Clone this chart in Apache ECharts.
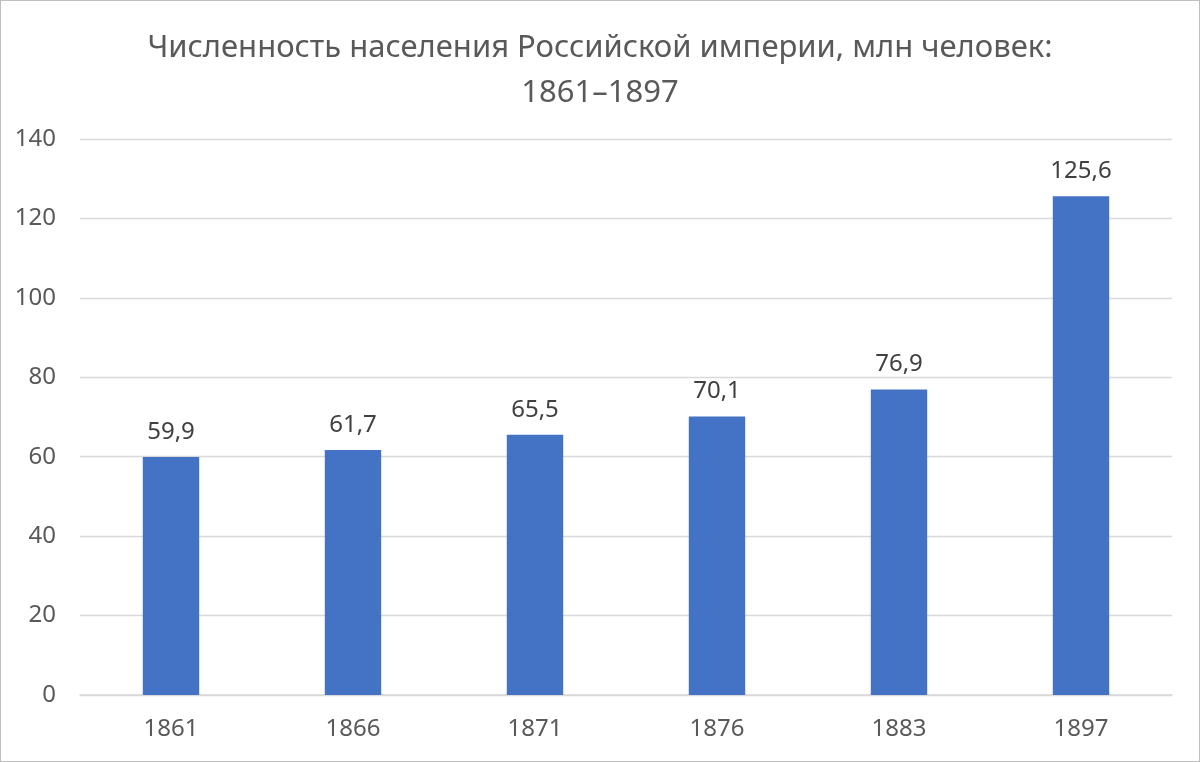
<!DOCTYPE html>
<html><head><meta charset="utf-8">
<script src="https://cdn.jsdelivr.net/npm/echarts@6/dist/echarts.min.js"></script>
<style>
html,body{margin:0;padding:0;background:#fff;}
#c{position:absolute;left:0;top:0;width:1198px;height:760px;border:1px solid #bfbfbf;}
</style></head>
<body><div id="c"></div>
<script>
const categories = ['1861','1866','1871','1876','1883','1897'];
const population = [59.9, 61.7, 65.5, 70.1, 76.9, 125.6];
const titleText = 'Численность населения Российской империи, млн человек:\n1861–1897';

const chart = echarts.init(document.getElementById('c'));
const font = '"Noto Sans", sans-serif';
chart.setOption({
  animation:false,
  title:{text:titleText,left:'center',top:20,
    textStyle:{fontFamily:font,fontSize:31,fontWeight:'normal',color:'#595959',lineHeight:45}},
  grid:{left:79,right:27,top:138,bottom:66,containLabel:false},
  xAxis:{type:'category',data:categories,
    axisLine:{lineStyle:{color:'#d9d9d9',width:1.5}},axisTick:{show:false},
    axisLabel:{color:'#595959',fontSize:24,fontFamily:font,margin:22}},
  yAxis:{type:'value',min:0,max:140,interval:20,
    axisLine:{show:false},axisTick:{show:false},
    splitLine:{lineStyle:{color:'#d9d9d9',width:1.3}},
    axisLabel:{color:'#595959',fontSize:24,fontFamily:font,margin:24}},
  series:[{type:'bar',data:population,barWidth:'31%',
    itemStyle:{color:'#4472C4'},
    label:{show:true,position:'top',distance:13,color:'#404040',fontSize:24,fontFamily:font,
      formatter:p=>String(p.value).replace('.',',')}}]
});
</script></body></html>
